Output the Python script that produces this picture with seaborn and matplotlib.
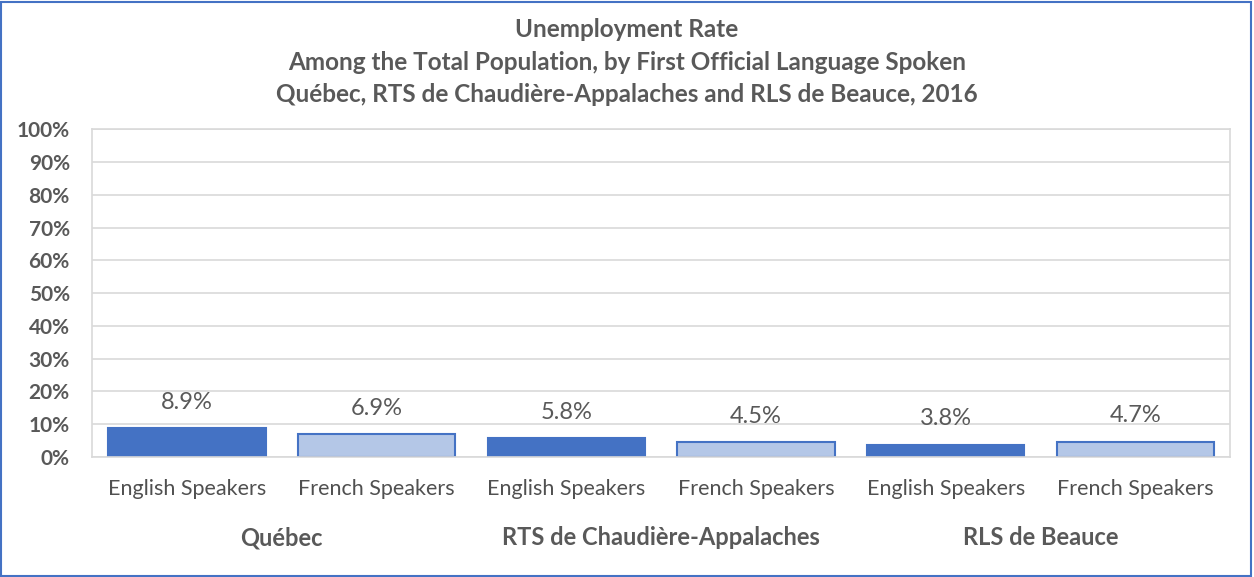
import pandas as pd
import matplotlib.pyplot as plt
import seaborn as sns
from matplotlib.patches import Rectangle

# data
regions = ["Québec", "RTS de Chaudière-Appalaches", "RLS de Beauce"]
languages = ["English Speakers", "French Speakers"]
english_rate = [8.9, 5.8, 3.8]
french_rate = [6.9, 4.5, 4.7]
y_ticks = [0, 10, 20, 30, 40, 50, 60, 70, 80, 90, 100]

rows = []
for i, region in enumerate(regions):
    rows.append({"region": region, "lang": languages[0], "slot": f"{region}|{languages[0]}", "rate": english_rate[i]})
    rows.append({"region": region, "lang": languages[1], "slot": f"{region}|{languages[1]}", "rate": french_rate[i]})
df = pd.DataFrame(rows)

sns.set_style("white")
plt.rcParams['font.family'] = ['Lato', 'DejaVu Sans']
plt.rcParams['ytick.major.pad'] = 16
plt.rcParams['xtick.major.pad'] = 16

gray = "#595959"
fig = plt.figure(figsize=(12.54, 5.77), dpi=100)
ax = fig.add_axes([0.0734, 0.208, 0.9076, 0.568])

sns.barplot(data=df, x="slot", y="rate", hue="lang",
            palette={"English Speakers": "#4472C4", "French Speakers": "#B4C7E7"},
            dodge=False, width=0.83, edgecolor="#4472C4", linewidth=1.5,
            saturation=1, legend=False, ax=ax)

# value labels above bars
for bar, val in zip(sorted(ax.patches, key=lambda p: p.get_x()), df["rate"]):
    ax.annotate(f"{val:.1f}%", (bar.get_x() + bar.get_width() / 2, bar.get_height()),
                xytext=(0, 11), textcoords="offset points", ha="center", va="bottom",
                fontsize=17, color=gray)

ax.set_ylim(0, 100)
ax.set_yticks(y_ticks)
ax.set_yticklabels([f"{t}%" for t in y_ticks], fontsize=15, fontweight="bold", color=gray)
ax.set_xlim(-0.5, len(df) - 0.5)
ax.set_xticks(range(len(df)))
ax.set_xticklabels(df["lang"], fontsize=15.5, color="#505050")
ax.tick_params(axis="x", length=0, pad=16)
ax.tick_params(axis="y", length=0, pad=16)
ax.set_xlabel("")
ax.set_ylabel("")
ax.grid(axis="y", color="#D9D9D9", linewidth=1.2)
ax.set_axisbelow(True)
for s in ax.spines.values():
    s.set_color("#D9D9D9")
    s.set_linewidth(1.2)

# region group labels under the speaker labels
for i, region in enumerate(regions):
    ax.text(2 * i + 0.5, -0.246, region, transform=ax.get_xaxis_transform(),
            ha="center", va="center", fontsize=17, fontweight="bold", color=gray)

# three-line title
fig.text(0.5, 0.892, "Unemployment Rate\nAmong the Total Population, by First Official Language Spoken\n"
         "Québec, RTS de Chaudière-Appalaches and RLS de Beauce, 2016",
         ha="center", va="center", fontsize=17.5, fontweight="bold", color=gray, linespacing=1.5)

# outer border of the chart
fig.patches.append(Rectangle((0.001, 0.002), 0.997, 0.995, transform=fig.transFigure,
                             fill=False, edgecolor="#4472C4", linewidth=1.5))

plt.savefig("out.png", dpi=100)
